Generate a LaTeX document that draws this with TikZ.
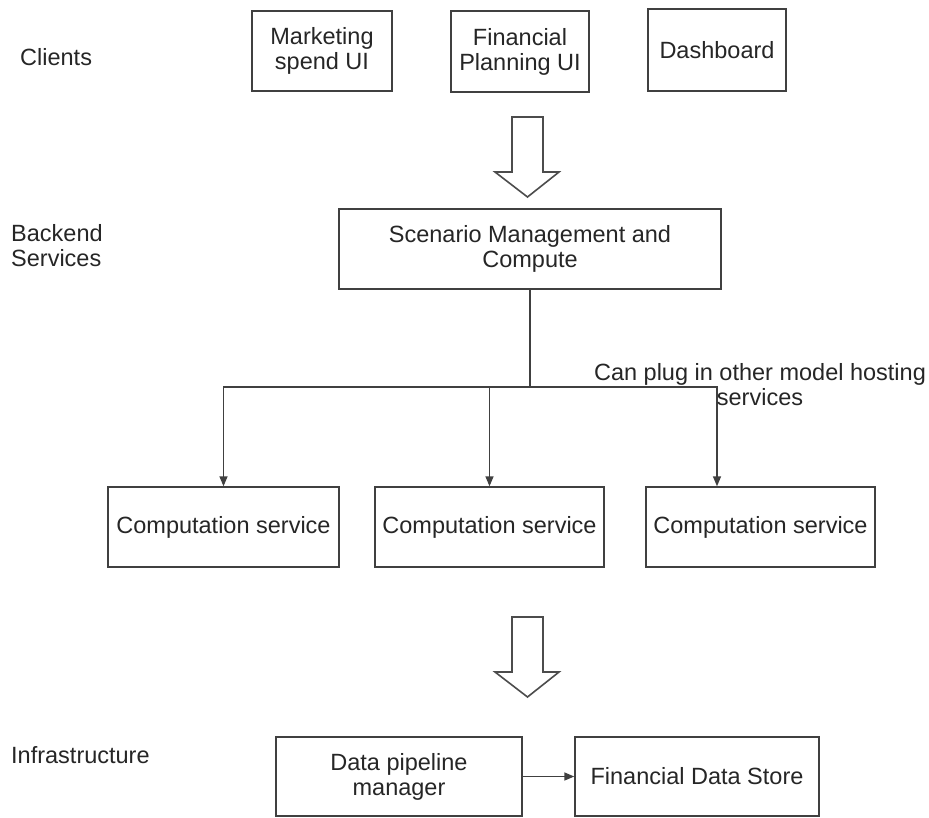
\documentclass[tikz,border=0pt]{standalone}
\usepackage{fontspec}
\setmainfont{Liberation Sans}
\usetikzlibrary{arrows.meta,calc}
\begin{document}
\begin{tikzpicture}[x=1pt,y=-1pt,
  every node/.style={font=\fontsize{23.5}{25}\selectfont, text=black!85},
  box/.style={draw=black!75, line width=1.4pt, inner sep=0pt, align=center},
  lbl/.style={anchor=west, align=left, inner sep=0pt},
  conn/.style={draw=black!75, line width=1.4pt},
  arr/.style={conn, -{Triangle[length=10pt,width=8pt]}},
  hollow/.style={draw=black!70, line width=1.6pt, fill=white, line join=miter}]
\useasboundingbox (0,0) rectangle (929,817);
\fill[white] (0,0) rectangle (929,817);

% tier labels
\node[lbl] (clients) at (20,57) {Clients};
\node[lbl] (backend) at (11,245.5) {Backend\\Services};
\node[lbl] (infra) at (11,755) {Infrastructure};

% clients
\node[box, minimum width=140pt, minimum height=80pt] (mkt) at (322,51) {Marketing\\spend UI};
\node[box, minimum width=138pt, minimum height=81pt] (fin) at (520,51.5) {Financial\\Planning UI};
\node[box, minimum width=138pt, minimum height=82pt] (dash) at (717,50) {Dashboard};

% hollow arrow 1
\draw[hollow] (512,117) -- (543,117) -- (543,172) -- (559,172) -- (527.5,197) -- (495,172) -- (512,172) -- cycle;

% backend
\node[box, minimum width=382pt, minimum height=80pt] (scen) at (530,249) {Scenario Management and\\Compute};

% computation services
\node[box, minimum width=231pt, minimum height=80pt] (c1) at (223.5,527) {Computation service};
\node[box, minimum width=229pt, minimum height=80pt] (c2) at (489.5,527) {Computation service};
\node[box, minimum width=229pt, minimum height=80pt] (c3) at (760.5,527) {Computation service};

\coordinate (j) at (530,387);
\draw[conn] (scen.south) -- (j);
\draw[arr] (j) -| (c1.north);
\draw[arr] (j) -| (c2.north);
\draw[arr] (j) -| ([xshift=-43.5pt]c3.north);

\node[align=center, inner sep=0pt] (note) at (760,385) {Can plug in other model hosting\\services};

% hollow arrow 2
\draw[hollow] (512,617) -- (543,617) -- (543,672) -- (559,672) -- (527.5,697) -- (495,672) -- (512,672) -- cycle;

% infrastructure
\node[box, minimum width=246pt, minimum height=79pt] (dp) at (399,776.5) {Data pipeline\\manager};
\node[box, minimum width=244pt, minimum height=79pt] (fds) at (697,776.5) {Financial Data Store};
\draw[arr] (dp.east) -- (fds.west);
\end{tikzpicture}
\end{document}
